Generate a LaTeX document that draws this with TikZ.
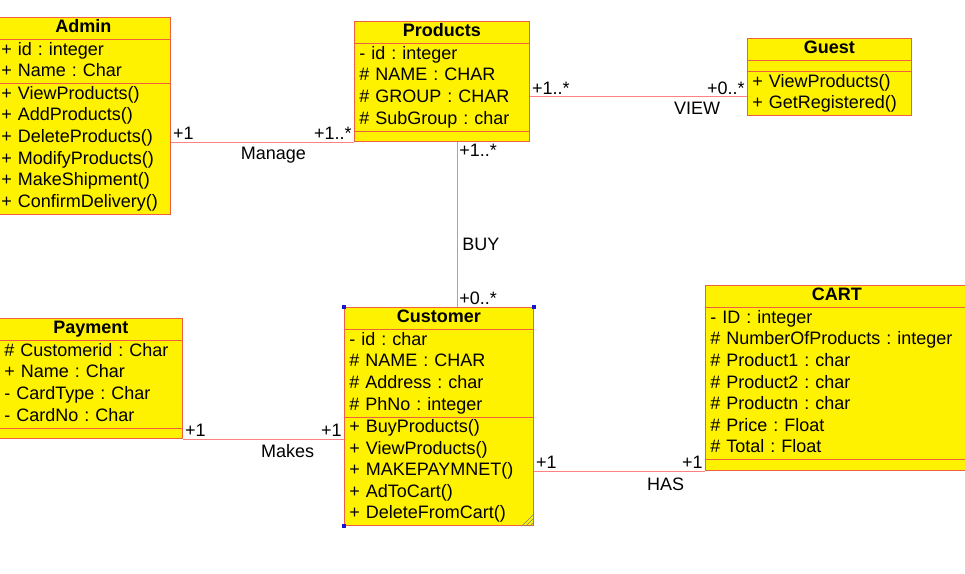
\documentclass[tikz,border=0pt]{standalone}
\usepackage{fontspec}
\setmainfont{Liberation Sans}
\usetikzlibrary{shapes.multipart, positioning}
\definecolor{clsborder}{RGB}{238,96,64}
\definecolor{clsline}{RGB}{255,128,128}
\definecolor{selblue}{RGB}{20,20,210}

\tikzset{
  umlclass/.style={rectangle split, rectangle split parts=3, draw=clsborder, fill=yellow,
    line width=0.8pt, anchor=north west, inner xsep=5pt, inner ysep=0pt, align=left,
    font=\fontsize{18}{21.6}\selectfont\frenchspacing},
  assoc/.style={draw=clsline, line width=0.8pt},
  mult/.style={font=\fontsize{18}{20}\selectfont, inner sep=2pt},
  handle/.style={fill=selblue}
}
\newcommand{\clstitle}[1]{\hbox to \hsize{\hss\textbf{\strut #1}\hss}}

\begin{document}
\begin{tikzpicture}[x=1pt, y=-1pt]
    \useasboundingbox (0,0) rectangle (965,573);
    % clases
    \node [umlclass, text width=164pt] (admin) at (-4,17) {\clstitle{Admin}
      \nodepart{two}\strut + id : integer\\ \strut + Name : Char
      \nodepart{three}\strut + ViewProducts()\\ \strut + AddProducts()\\ \strut + DeleteProducts()\\
      \strut + ModifyProducts()\\ \strut + MakeShipment()\\ \strut + ConfirmDelivery()};
    \node [umlclass, text width=165pt] (products) at (354,21) {\clstitle{Products}
      \nodepart{two}\strut - id : integer\\ \strut \# NAME : CHAR\\ \strut \# GROUP : CHAR\\ \strut \# SubGroup : char
      \nodepart{three}\rule{0pt}{10pt}};
    \node [umlclass, text width=154pt] (guest) at (747,38) {\clstitle{Guest}
      \nodepart{two}\rule{0pt}{10pt}
      \nodepart{three}\strut + ViewProducts()\\ \strut + GetRegistered()};
    \node [umlclass, text width=173pt] (payment) at (-1,318) {\clstitle{Payment}
      \nodepart{two}\strut \# Customerid : Char\\ \strut + Name : Char\\ \strut - CardType : Char\\ \strut - CardNo : Char
      \nodepart{three}\rule{0pt}{10pt}};
    \node [umlclass, text width=179pt] (customer) at (344,307) {\clstitle{Customer}
      \nodepart{two}\strut - id : char\\ \strut \# NAME : CHAR\\ \strut \# Address : char\\ \strut \# PhNo : integer
      \nodepart{three}\strut + BuyProducts()\\ \strut + ViewProducts()\\ \strut + MAKEPAYMNET()\\
      \strut + AdToCart()\\ \strut + DeleteFromCart()};
    \node [umlclass, text width=253pt] (cart) at (705,285) {\clstitle{CART}
      \nodepart{two}\strut - ID : integer\\ \strut \# NumberOfProducts : integer\\ \strut \# Product1 : char\\
      \strut \# Product2 : char\\ \strut \# Productn : char\\ \strut \# Price : Float\\ \strut \# Total : Float
      \nodepart{three}\rule{0pt}{10pt}};

    % seleccion
    \fill [handle] (customer.north west) +(-2,-2) rectangle +(2,2);
    \fill [handle] (customer.north east) +(-2,-2) rectangle +(2,2);
    \fill [handle] (customer.south west) +(-2,-2) rectangle +(2,2);
    \draw [gray] (customer.south east) +(-12,0) -- +(0,-12) +(-8,0) -- +(0,-8) +(-4,0) -- +(0,-4);

    % asociaciones
    \coordinate (viewL) at ([yshift=-15pt]products.east);
    \coordinate (buyT) at ([xshift=15pt]products.south);
    \path [assoc]
    (admin.east |- products.south west) edge node [mult, pos=0, above right] {+1}
        node [mult, pos=1, above left] {+1..*}
        node [mult, pos=0.56, below=3pt] {Manage} (products.south west)
    (viewL) edge node [mult, pos=0, above right] {+1..*}
        node [mult, pos=1, above left] {+0..*}
        node [mult, pos=0.77, below=3pt] {VIEW} (viewL -| guest.west)
    (buyT) edge node [mult, pos=0, below right] {+1..*}
        node [mult, pos=0.62, right=3pt] {BUY}
        node [mult, pos=1, above right] {+0..*} (buyT |- customer.north)
    (payment.south east) edge node [mult, pos=0, above right] {+1}
        node [mult, pos=1, above left] {+1}
        node [mult, pos=0.65, below=3pt] {Makes} (payment.south east -| customer.west)
    (cart.south west -| customer.east) edge node [mult, pos=0, above right] {+1}
        node [mult, pos=1, above left] {+1}
        node [mult, pos=0.77, below=5pt] {HAS} (cart.south west);
\end{tikzpicture}
\end{document}
